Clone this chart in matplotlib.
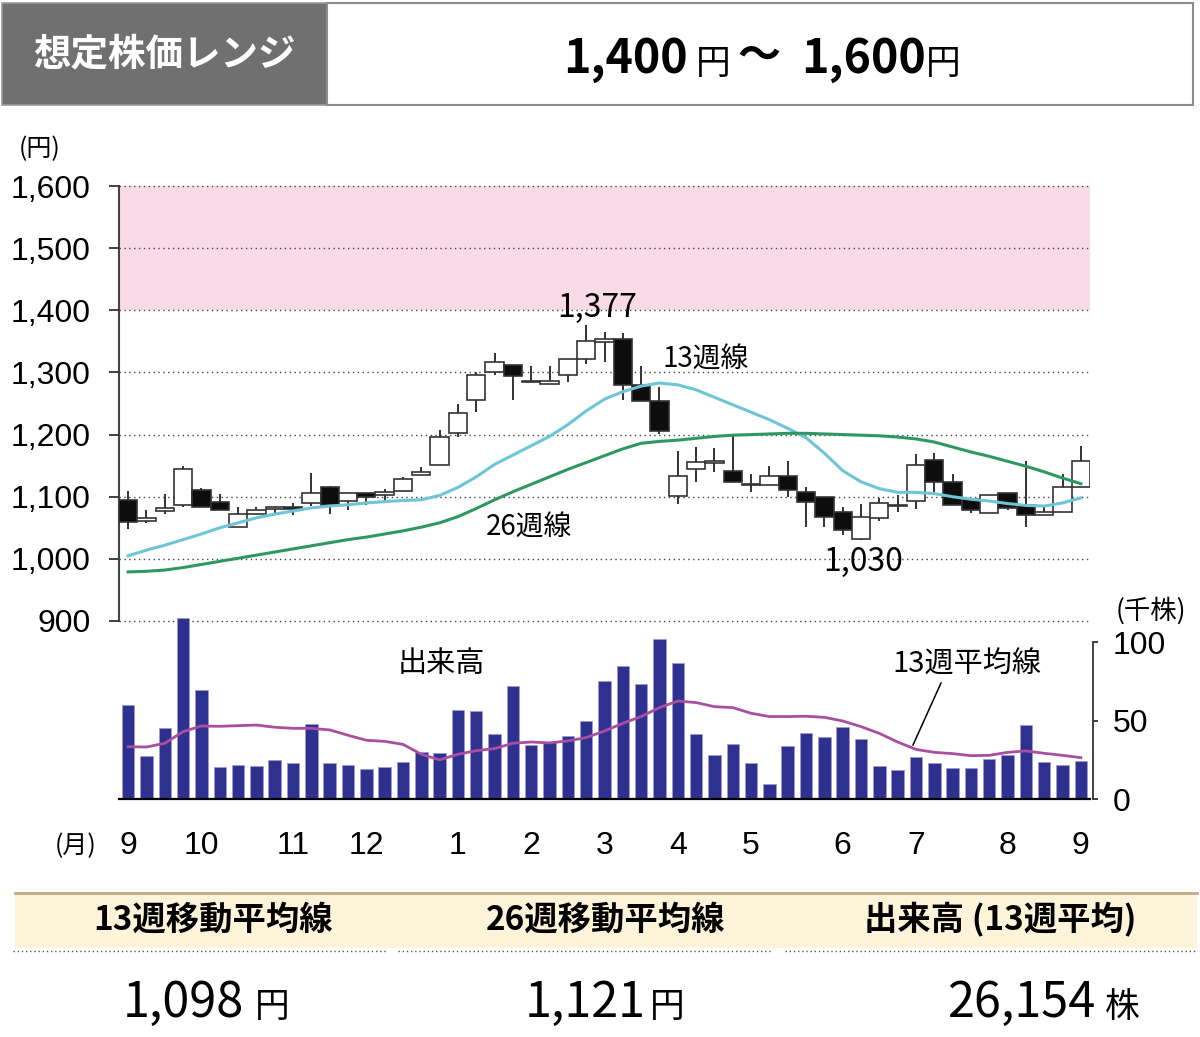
import matplotlib

matplotlib.use("Agg")
import matplotlib.pyplot as plt  # noqa: E402
from matplotlib.patches import Rectangle  # noqa: E402
from matplotlib.ticker import FuncFormatter  # noqa: E402

plt.rcParams["font.family"] = ["Noto Sans CJK JP", "DejaVu Sans"]

JP = ["Noto Sans CJK JP", "DejaVu Sans"]
NUM = ["Liberation Sans", "DejaVu Sans"]

# ---- weekly prices (yen), one entry per week, Sep .. Sep ----
opens = [1095, 1061, 1077, 1086, 1111, 1091, 1051, 1072, 1080, 1083,
         1090, 1115, 1093, 1106, 1102, 1109, 1135, 1151, 1202, 1255,
         1301, 1312, 1287, 1282, 1296, 1321, 1349, 1353, 1280, 1254,
         1101, 1145, 1155, 1142, 1121, 1119, 1134, 1107, 1100, 1075,
         1032, 1065, 1086, 1093, 1159, 1123, 1096, 1074, 1106, 1087,
         1071, 1075, 1115]
closes = [1060, 1066, 1082, 1145, 1083, 1078, 1072, 1078, 1084, 1081,
          1106, 1087, 1106, 1099, 1107, 1128, 1140, 1196, 1234, 1296,
          1316, 1294, 1284, 1287, 1321, 1351, 1353, 1280, 1254, 1205,
          1134, 1156, 1157, 1123, 1119, 1134, 1111, 1091, 1067, 1046,
          1067, 1090, 1085, 1151, 1123, 1086, 1078, 1103, 1082, 1071,
          1075, 1116, 1157]
highs = [1109, 1078, 1105, 1150, 1114, 1105, 1083, 1084, 1085, 1090,
         1138, 1118, 1106, 1106, 1112, 1131, 1148, 1208, 1249, 1300,
         1331, 1312, 1311, 1311, 1321, 1377, 1365, 1363, 1311, 1276,
         1174, 1180, 1178, 1197, 1137, 1150, 1157, 1115, 1100, 1084,
         1088, 1098, 1103, 1168, 1170, 1136, 1096, 1103, 1106, 1157,
         1087, 1136, 1181]
lows = [1048, 1058, 1072, 1083, 1083, 1078, 1051, 1072, 1074, 1071,
        1085, 1072, 1078, 1087, 1091, 1109, 1135, 1151, 1196, 1236,
        1296, 1255, 1284, 1282, 1285, 1313, 1317, 1255, 1254, 1201,
        1088, 1124, 1139, 1123, 1108, 1119, 1100, 1051, 1051, 1039,
        1030, 1061, 1075, 1081, 1103, 1086, 1074, 1073, 1079, 1051,
        1071, 1075, 1115]
ma13 = [1005, 1014, 1022, 1031, 1040, 1050, 1058, 1066, 1072, 1077,
        1082, 1085, 1087, 1090, 1092, 1094, 1095, 1102, 1115, 1132,
        1152, 1167, 1182, 1197, 1216, 1238, 1257, 1269, 1278, 1283,
        1280, 1272, 1260, 1248, 1236, 1224, 1210, 1195, 1170, 1142,
        1124, 1113, 1107, 1107, 1105, 1100, 1096, 1093, 1089, 1086,
        1085, 1090, 1098]
ma26 = [979, 980, 982, 986, 991, 996, 1001, 1006, 1011, 1016,
        1021, 1026, 1031, 1035, 1040, 1045, 1051, 1058, 1068, 1081,
        1095, 1108, 1120, 1132, 1144, 1155, 1166, 1177, 1186, 1189,
        1191, 1194, 1197, 1199, 1200, 1201, 1202, 1202, 1201, 1200,
        1199, 1198, 1196, 1193, 1188, 1180, 1172, 1165, 1157, 1149,
        1140, 1130, 1121]

# ---- weekly volume (thousand shares) ----
volume = [59.9, 27.6, 45.2, 115.5, 69.6, 20.6, 21.9, 21.2, 24.8, 22.9,
          48.2, 23.1, 21.7, 19.3, 20.4, 23.8, 30.1, 29.3, 57.1, 56.3,
          41.6, 72.2, 34.6, 36.7, 40.3, 49.9, 75.4, 84.9, 73.5, 101.9,
          86.6, 41.6, 28.5, 35.2, 22.9, 9.8, 34.2, 42.5, 39.9, 45.9,
          38.4, 21.0, 18.5, 27.0, 22.9, 19.7, 20.2, 25.7, 28.5, 47.3,
          23.6, 22.1, 24.4]
vol_ma13 = [33.5, 33.3, 35.7, 43.1, 46.7, 46.5, 46.9, 47.3, 45.9, 45.2,
            45.2, 44.2, 40.8, 37.6, 36.9, 35.0, 28.7, 25.1, 28.7, 31.0,
            32.3, 35.7, 36.5, 35.9, 37.2, 39.3, 43.5, 48.4, 52.7, 58.4,
            62.6, 61.6, 59.0, 58.4, 54.8, 52.7, 52.7, 52.9, 52.2, 49.9,
            46.3, 42.0, 36.5, 31.8, 29.9, 29.1, 27.8, 28.0, 29.9, 30.8,
            29.3, 28.0, 26.5]

month_pos = [0, 4, 9, 13, 18, 22, 26, 30, 34, 39, 43, 48, 52]
month_labels = ["9", "10", "11", "12", "1", "2", "3", "4", "5", "6", "7", "8", "9"]
price_ticks = [900, 1000, 1100, 1200, 1300, 1400, 1500, 1600]
vol_ticks = [0, 50, 100]
range_low, range_high = 1400, 1600

footer_titles = ["13週移動平均線", "26週移動平均線", "出来高 (13週平均)"]
footer_values = ["1,098", "1,121", "26,154"]
footer_units = ["円", "円", "株"]

W, H = 1200, 1037
x = list(range(len(opens)))

fig = plt.figure(figsize=(W / 100, H / 100), dpi=100)
fig.patch.set_facecolor("white")

# ---------------- price panel ----------------
ax = fig.add_axes([119 / W, 1 - 621 / H, 971 / W, 435 / H])
ax.set_xlim(-0.5, len(x) - 0.5)
ax.set_ylim(900, 1600)
ax.axhspan(range_low, range_high, color="#f8dbe6", zorder=0, lw=0)

ax.vlines(x, lows, highs, color="#222222", lw=1.3, zorder=2)
fills = ["white" if c >= o else "#0d0d0d" for o, c in zip(opens, closes)]
ax.bar(x, [max(abs(c - o), 1.5) for o, c in zip(opens, closes)],
       bottom=[min(o, c) for o, c in zip(opens, closes)], width=1.0,
       color=fills, edgecolor="#333333", linewidth=1.2, zorder=3)
ax.plot(x, ma13, color="#6cc6d6", lw=2.2, zorder=4)
ax.plot(x, ma26, color="#2e9862", lw=2.2, zorder=4)

ax.set_yticks(price_ticks)
ax.yaxis.set_major_formatter(FuncFormatter(lambda v, _: f"{v:,.0f}"))
ax.set_xticks([])
ax.grid(axis="y", linestyle=(0, (1, 2.5)), color="#444444", linewidth=1.0)
ax.set_axisbelow(False)
for s in ("top", "right", "bottom"):
    ax.spines[s].set_visible(False)
ax.spines["left"].set_color("#444444")
ax.spines["left"].set_linewidth(1.5)
ax.tick_params(axis="y", length=7.5, width=1.3, color="#333333", pad=13, labelsize=23)
for lbl in ax.get_yticklabels():
    lbl.set_fontfamily(NUM)
for gl in ax.get_ygridlines():
    gl.set_zorder(1)
    gl.set_clip_on(False)

ax.text(25.6, 1404, "1,377", ha="center", va="center", fontsize=23, family=JP)
ax.text(31.5, 1320, "13週線", ha="center", va="center", fontsize=20, family=JP)
ax.text(21.9, 1050, "26週線", ha="center", va="center", fontsize=20, family=JP)
ax.text(40.1, 995, "1,030", ha="center", va="center", fontsize=23, family=JP)

# ---------------- volume panel ----------------
vax = fig.add_axes([119 / W, 1 - 799.3 / H, 971 / W, 189.3 / H])
vax.patch.set_visible(False)
vax.set_xlim(-0.5, len(x) - 0.5)
vax.set_ylim(0, 189.3 / 1.57)
vax.bar(x, volume, width=0.68, color="#2e3190", edgecolor="#9c9ad0", linewidth=0.6, zorder=2)
vax.plot(x, vol_ma13, color="#a8509f", lw=2.0, zorder=3)

for s in ("top", "left"):
    vax.spines[s].set_visible(False)
vax.spines["bottom"].set_color("black")
vax.spines["bottom"].set_linewidth(1.6)
vax.spines["right"].set_color("#333333")
vax.spines["right"].set_linewidth(1.3)
vax.spines["right"].set_bounds(0, 100)
vax.spines["right"].set_position(("outward", 2))
vax.yaxis.tick_right()
vax.set_yticks(vol_ticks)
vax.tick_params(axis="y", length=3.5, width=1.3, color="#333333", pad=11, labelsize=23)
for lbl in vax.get_yticklabels():
    lbl.set_fontfamily(NUM)
vax.set_xticks(month_pos)
vax.set_xticklabels(month_labels)
vax.tick_params(axis="x", length=0, pad=23, labelsize=23)
for lbl in vax.get_xticklabels():
    lbl.set_fontfamily(NUM)

# ---------------- overlay: header, labels, footer ----------------
ov = fig.add_axes([0, 0, 1, 1], zorder=10)
ov.set_xlim(0, W)
ov.set_ylim(H, 0)
ov.axis("off")
ov.patch.set_visible(False)

ov.add_patch(Rectangle((2, 3), 325, 102, fc="#707070", ec="#9a9a9a", lw=1.2))
ov.add_patch(Rectangle((327, 3), 866, 102, fc="white", ec="#8c8c8c", lw=1.5))
ov.text(164, 54, "想定株価レンジ", ha="center", va="center", color="white",
        fontsize=27, fontweight="bold", family=JP)
ov.text(563, 73, "1,400", ha="left", va="baseline", fontsize=33.5, fontweight="bold", family=JP)
ov.text(696, 74, "円", ha="left", va="baseline", fontsize=25, family=JP)
ov.text(759, 56, "〜", ha="center", va="center", fontsize=31, fontweight="bold", family=JP)
ov.text(801, 73, "1,600", ha="left", va="baseline", fontsize=33.5, fontweight="bold", family=JP)
ov.text(926, 74, "円", ha="left", va="baseline", fontsize=25, family=JP)

ov.text(40, 149, "(円)", ha="center", va="center", fontsize=18, family=JP)
ov.text(1151, 611, "(千株)", ha="center", va="center", fontsize=19, family=JP)
ov.text(76, 846, "(月)", ha="center", va="center", fontsize=18, family=JP)

ov.text(441, 664, "出来高", ha="center", va="center", fontsize=21, family=JP)
ov.text(967, 665, "13週平均線", ha="center", va="center", fontsize=21, family=JP)
ov.plot([941, 913], [683, 745], color="black", lw=1.1)

# footer table
ov.add_patch(Rectangle((15, 893), 1182, 55, fc="#fdf3d8", ec="none"))
ov.plot([15, 1197], [893, 893], color="#bcab85", lw=2)
for x0, x1 in ((13, 387), (398, 772), (785, 1195)):
    ov.plot([x0, x1], [951, 951], color="#555555", lw=1.0, linestyle=(0, (1, 2)))
for cx, t in zip((213, 606, 1000), footer_titles):
    ov.text(cx, 920, t, ha="center", va="center", fontsize=24, fontweight="bold", family=JP)
for lx, ux, v, u in zip((123, 525, 947), (255, 650, 1105), footer_values, footer_units):
    ov.text(lx, 1017, v, ha="left", va="baseline", fontsize=35, family=JP)
    ov.text(ux, 1017, u, ha="left", va="baseline", fontsize=25, family=JP)

fig.savefig("out.png", dpi=100, facecolor="white")
